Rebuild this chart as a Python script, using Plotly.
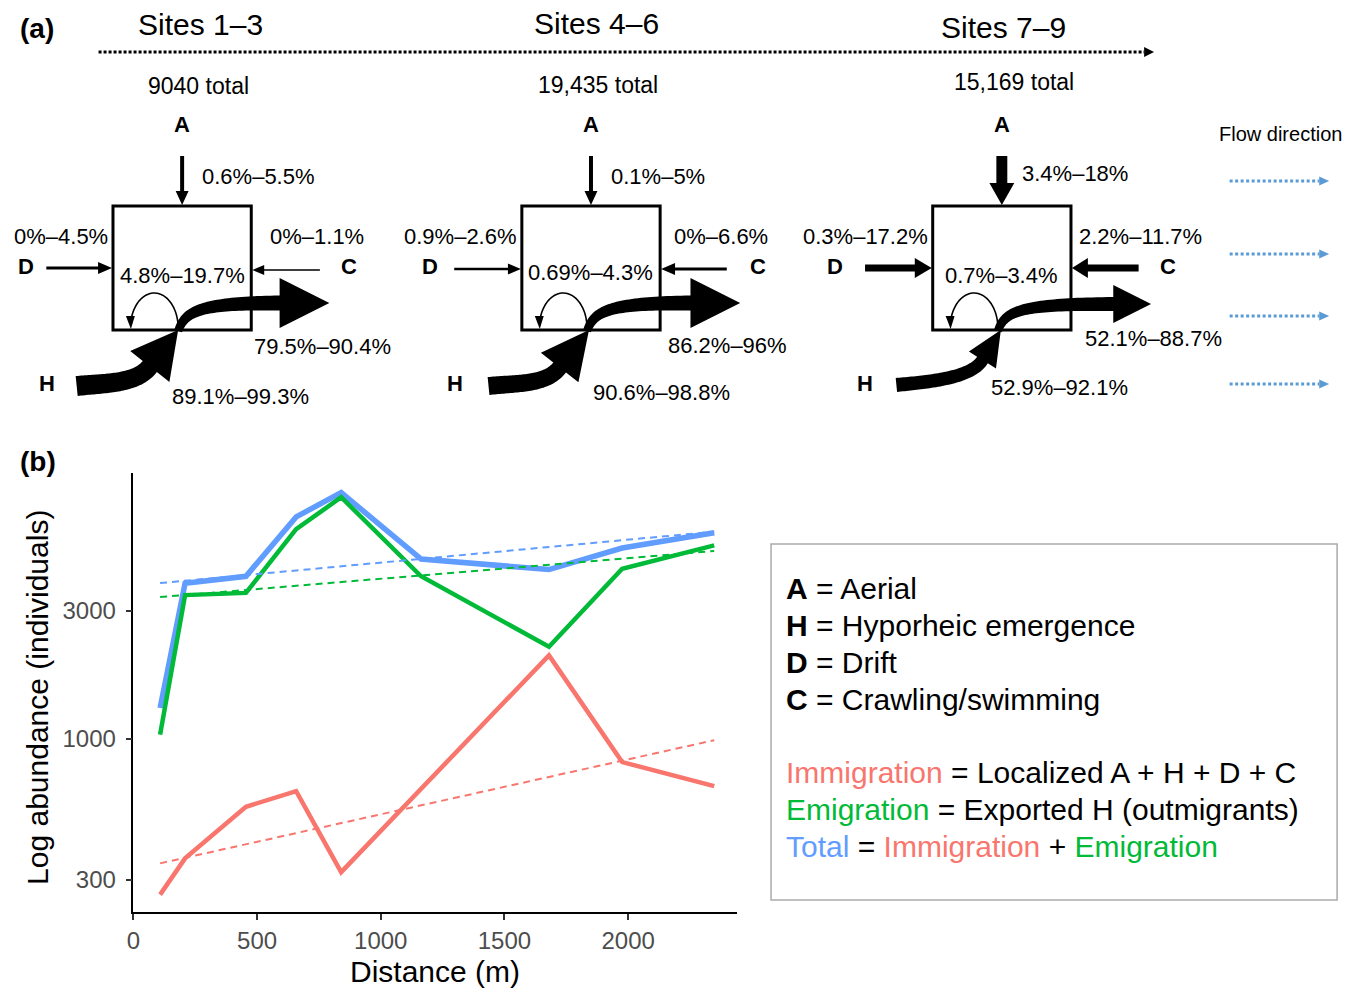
import numpy as np
import plotly.graph_objects as go

W, H = 1357, 988          # reference picture size
OX, OY = 11, 8            # page offset of the plot inside the browser
WF, HF = W - OX, H - OY   # figure size
FONT = "Liberation Sans, Arial, sans-serif"

# ---------------- data (panel b) ----------------
distance_m = [108, 209, 455, 658, 840, 1163, 1680, 1976, 2348]
total_abund = [1304, 3796, 4028, 6698, 8240, 4666, 4266, 5128, 5848]
emigration_abund = [1039, 3428, 3494, 6026, 7925, 4028, 2203, 4297, 5248]
immigration_abund = [264, 360, 560, 640, 320, 653, 2046, 821, 668]

trend_x = [108, 2348]
total_trend = [3800, 5900]
emigration_trend = [3370, 5000]
immigration_trend = [345, 990]

x_ticks = [0, 500, 1000, 1500, 2000]
y_ticks = [300, 1000, 3000]

# ---------------- data (panel a) ----------------
site_groups = ["Sites 1–3", "Sites 4–6", "Sites 7–9"]
site_totals = ["9040 total", "19,435 total", "15,169 total"]
pct_aerial = ["0.6%–5.5%", "0.1%–5%", "3.4%–18%"]
pct_drift = ["0%–4.5%", "0.9%–2.6%", "0.3%–17.2%"]
pct_crawl = ["0%–1.1%", "0%–6.6%", "2.2%–11.7%"]
pct_local = ["4.8%–19.7%", "0.69%–4.3%", "0.7%–3.4%"]
pct_export = ["79.5%–90.4%", "86.2%–96%", "52.1%–88.7%"]
pct_hypo = ["89.1%–99.3%", "90.6%–98.8%", "52.9%–92.1%"]

legend_lines = [
    "<b>A</b> = Aerial",
    "<b>H</b> = Hyporheic emergence",
    "<b>D</b> = Drift",
    "<b>C</b> = Crawling/swimming",
    "<span style='color:#F8766D'>Immigration</span> = Localized A + H + D + C",
    "<span style='color:#00BA38'>Emigration</span> = Exported H (outmigrants)",
    "<span style='color:#619CFF'>Total</span> = <span style='color:#F8766D'>Immigration</span>"
    " + <span style='color:#00BA38'>Emigration</span>",
]

# ---------------- styles / layout geometry ----------------
RED, GREEN, BLUE = "#F8766D", "#00BA38", "#619CFF"
FLOW_BLUE = "#5B9BD5"

site_cx = [179, 590, 1003]
site_title_pos = [(197, 25), (596, 24), (1005, 27)]
site_total_pos = [(195, 86), (597, 85), (1015, 82)]
box_w, box_top, box_bot = 139, 206, 330

# arrow styles per site: (shaft, head width, head length)
a_style = [(4, 13, 14), (4, 13, 14), (11, 25, 22)]
d_style = [(3, 12, 14), (2.5, 11, 13), (7, 20, 17)]
c_style = [(1.5, 10, 12), (3, 12, 14), (7, 20, 16)]
d_tail_dx = [-67, -68, -68]
c_tail_dx = [69, 67, 68]
d_y = [268, 269, 268]
c_y = [270, 269, 268]
d_lab_x = [22, 428, 835]
c_lab_dx = [17, 12, 6]
a_lab_y = [177, 177, 173]
local_y = [275, 272, 276]
export_lab = [(141, 346), (137, 345), (152, 338)]
hypo_lab = [(59, 396), (71, 393), (58, 387)]
h_lab_dx = [-136, -137, -138]
# H input arrow: tail, shaft width, head base centre, tip, head width
h_in = [((73, 386), 20, (146.5, 366.5), (175, 330), 50),
        ((487, 386), 18, (558.5, 367.5), (588, 330), 48),
        ((897, 385), 14, (983.5, 360), (1002, 330), 32)]
# export arrow: head base dx, tip dx, y, head height, shaft width
h_out = [(98, 148, 303, 50, 15), (100, 150, 303, 50, 15), (112, 150, 304, 38, 14)]

flow_y = [181, 254, 316, 384]


def P(x, y):
    return (x - OX) / WF, 1 - (y - OY) / HF


def path_from(pts, close=True):
    s = []
    for i, (x, y) in enumerate(pts):
        a, b = P(x, y)
        s.append(("M" if i == 0 else "L") + f"{a:.5f},{b:.5f}")
    return " ".join(s) + (" Z" if close else "")


def arrow_poly(x0, y0, x1, y1, sw, hw, hl):
    d = np.array([x1 - x0, y1 - y0], float)
    d /= np.hypot(*d)
    n = np.array([-d[1], d[0]])
    t = np.array([x0, y0], float)
    tip = np.array([x1, y1], float)
    b = tip - d * hl
    return [t + n * sw / 2, b + n * sw / 2, b + n * hw / 2, tip,
            b - n * hw / 2, b - n * sw / 2, t - n * sw / 2]


def bezier(p0, p1, p2, p3, n=50):
    p0, p1, p2, p3 = map(lambda p: np.array(p, float), (p0, p1, p2, p3))
    t = np.linspace(0, 1, n)[:, None]
    pts = (1 - t) ** 3 * p0 + 3 * (1 - t) ** 2 * t * p1 + 3 * (1 - t) * t ** 2 * p2 + t ** 3 * p3
    der = 3 * (1 - t) ** 2 * (p1 - p0) + 6 * (1 - t) * t * (p2 - p1) + 3 * t ** 2 * (p3 - p2)
    return pts, der


def curved_arrow(p0, p1, p2, p3, sw0, sw1, tip, hw):
    pts, der = bezier(p0, p1, p2, p3)
    nrm = np.stack([-der[:, 1], der[:, 0]], axis=1)
    nrm /= np.linalg.norm(nrm, axis=1)[:, None]
    w = np.linspace(sw0, sw1, len(pts))[:, None]
    left = pts + nrm * w / 2
    right = pts - nrm * w / 2
    base = np.array(p3, float)
    tipv = np.array(tip, float)
    d = tipv - base
    d /= np.hypot(*d)
    n = np.array([-d[1], d[0]])
    head = [base + n * hw / 2, tipv, base - n * hw / 2]
    return list(left) + head + list(right[::-1])


shapes = []
annotations = []


def fill_shape(pts, color="black"):
    shapes.append(dict(type="path", xref="paper", yref="paper", path=path_from(pts),
                       fillcolor=color, line=dict(width=0)))


def line_shape(x0, y0, x1, y1, color="black", width=3, dash="solid"):
    a, b = P(x0, y0)
    c, d = P(x1, y1)
    shapes.append(dict(type="line", xref="paper", yref="paper", x0=a, y0=b, x1=c, y1=d,
                       line=dict(color=color, width=width, dash=dash)))


def rect_shape(x0, y0, x1, y1, color="black", width=3):
    a0, b0 = P(x0, y0)
    a1, b1 = P(x1, y1)
    shapes.append(dict(type="rect", xref="paper", yref="paper", x0=a0, y0=b0, x1=a1, y1=b1,
                       line=dict(color=color, width=width), fillcolor="rgba(0,0,0,0)"))


def txt(x, y, text, size, xanchor="center", color="black", angle=0):
    a, b = P(x, y)
    annotations.append(dict(x=a, y=b, xref="paper", yref="paper", text=text, showarrow=False,
                            xanchor=xanchor, yanchor="middle", textangle=angle,
                            font=dict(family=FONT, size=size, color=color)))


# ---------------- panel (a) ----------------
txt(33, 28, "<b>(a)</b>", 28)
line_shape(95, 52, 1146, 52, width=3, dash="3px,2px")
fill_shape([(1146, 47), (1156, 52), (1146, 57)])

for i, cx in enumerate(site_cx):
    tx, ty = site_title_pos[i]
    txt(tx, ty, site_groups[i], 30)
    sx, sy = site_total_pos[i]
    txt(sx, sy, site_totals[i], 23)

    left, right = cx - box_w / 2, cx + box_w / 2
    rect_shape(left, box_top, right, box_bot)

    # Aerial
    sw, hw, hl = a_style[i]
    fill_shape(arrow_poly(cx, 156, cx, box_top - 1, sw, hw, hl))
    txt(cx, 125, "<b>A</b>", 22)
    txt(cx + 18, a_lab_y[i], pct_aerial[i], 22, xanchor="left")

    # Drift
    sw, hw, hl = d_style[i]
    fill_shape(arrow_poly(left + d_tail_dx[i], d_y[i], left - 1, d_y[i], sw, hw, hl))
    txt(d_lab_x[i], 266, "<b>D</b>", 22)
    txt(left - 3, 236, pct_drift[i], 22, xanchor="right")

    # Crawling
    sw, hw, hl = c_style[i]
    fill_shape(arrow_poly(right + c_tail_dx[i], c_y[i], right + 1, c_y[i], sw, hw, hl))
    txt(right + 98, 266, "<b>C</b>", 22)
    txt(right + c_lab_dx[i], 236, pct_crawl[i], 22, xanchor="left")

    # localized text
    txt(cx, local_y[i], pct_local[i], 22)

    # self-recruitment loop
    lx0, lx1 = cx - 4, cx - 52
    lc, rx, ry = (lx0 + lx1) / 2, (lx0 - lx1) / 2, 35
    tt = np.linspace(0, np.pi * 0.96, 40)
    loop = [(lc + rx * np.cos(t), 328 - ry * np.sin(t)) for t in tt]
    shapes.append(dict(type="path", xref="paper", yref="paper",
                       path=path_from(loop, close=False),
                       line=dict(color="black", width=1.6)))
    fill_shape([(lx1 - 4.5, 316), (lx1 + 4.5, 316), (lx1 + 0.5, 329)])

    # H input arrow
    tail, sw, base, tip, hw = h_in[i]
    dv = np.array(tip, float) - np.array(base, float)
    dv /= np.hypot(*dv)
    p1 = (tail[0] + 30, tail[1] - 3)
    p2 = (base[0] - dv[0] * 22, base[1] - dv[1] * 22)
    fill_shape(curved_arrow(tail, p1, p2, base, sw, sw * 0.9, tip, hw))
    txt(cx + h_lab_dx[i], 383, "<b>H</b>", 22)
    hx, hy = hypo_lab[i]
    txt(cx + hx, hy, pct_hypo[i], 22)

    # exported arrow
    bdx, tdx, oy, hh, osw = h_out[i]
    fill_shape(curved_arrow((cx - 4, 331), (cx + 3, 311), (cx + 18, oy), (cx + bdx, oy),
                            8, osw, (cx + tdx, oy), hh))
    ex, ey = export_lab[i]
    txt(cx + ex, ey, pct_export[i], 22)

# flow direction
txt(1283, 134, "Flow direction", 20)
for fy in flow_y:
    line_shape(1232, fy, 1322, fy, color=FLOW_BLUE, width=3, dash="3px,2.5px")
    fill_shape([(1322, fy - 4.5), (1332, fy), (1322, fy + 4.5)], color=FLOW_BLUE)

# ---------------- panel (b) ----------------
fig = go.Figure()
for yv, col, w in [(total_abund, BLUE, 5.5), (emigration_abund, GREEN, 4.5),
                   (immigration_abund, RED, 4.5)]:
    fig.add_trace(go.Scatter(x=distance_m, y=yv, mode="lines",
                             line=dict(color=col, width=w), showlegend=False))
for yv, col in [(total_trend, BLUE), (emigration_trend, GREEN), (immigration_trend, RED)]:
    fig.add_trace(go.Scatter(x=trend_x, y=yv, mode="lines",
                             line=dict(color=col, width=2, dash="7px,5px"), showlegend=False))

txt(34, 461, "<b>(b)</b>", 28)
txt(33, 697, "Log abundance (individuals)", 30, angle=-90)
txt(433, 971, "Distance (m)", 30)

# legend box
rect_shape(771, 544, 1340, 900, color="#aaaaaa", width=1.5)
leg_y = [588, 625, 662, 699, 772, 809, 846]
for t, ly in zip(legend_lines, leg_y):
    txt(784, ly, t, 30, xanchor="left")

x0d, _ = P(130, 0)
x1d, _ = P(737, 0)
_, y0d = P(0, 912)
_, y1d = P(0, 473)

fig.update_layout(
    width=WF, height=HF,
    margin=dict(l=0, r=0, t=0, b=0),
    paper_bgcolor="white", plot_bgcolor="rgba(0,0,0,0)",
    font=dict(family=FONT),
    shapes=shapes, annotations=annotations,
    xaxis=dict(domain=[x0d, x1d], range=[0, 2441], tickvals=x_ticks,
               ticktext=[str(v) for v in x_ticks],
               showgrid=False, zeroline=False, showline=True, linecolor="black", linewidth=1.5,
               ticks="outside", ticklen=6, tickwidth=1.5, tickcolor="#333333",
               tickfont=dict(size=24, color="#4d4d4d", family=FONT), anchor="y"),
    yaxis=dict(domain=[y0d, y1d], type="log", range=[2.357, 3.989],
               tickvals=y_ticks, ticktext=[str(v) for v in y_ticks],
               showgrid=False, zeroline=False, showline=True, linecolor="black", linewidth=1.5,
               ticks="outside", ticklen=6, tickwidth=1.5, tickcolor="#333333",
               ticklabelstandoff=5,
               tickfont=dict(size=24, color="#4d4d4d", family=FONT), anchor="x"),
)

fig.write_html("out.html")
